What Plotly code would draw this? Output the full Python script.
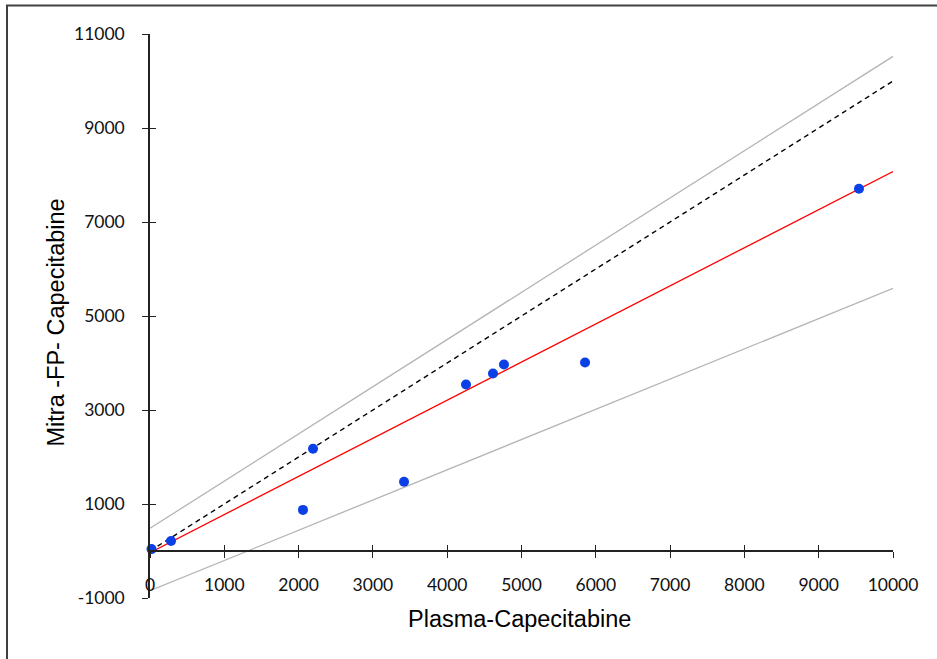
import plotly.graph_objects as go

# ---- data ----
plasma = [20, 283, 2059, 2194, 3419, 4253, 4616, 4764, 5855, 9542]
mitra = [40, 213, 875, 2176, 1472, 3541, 3776, 3968, 4011, 7707]

line_x = [0, 10000]
identity_y = [0, 10000]
fit_y = [-36, 8075]
upper_y = [483, 10524]
lower_y = [-845, 5587]

x_ticks = list(range(0, 10001, 1000))
y_ticks = list(range(-1000, 11001, 2000))

x_title = "Plasma-Capecitabine"
y_title = "Mitra -FP- Capecitabine"

W, H = 937, 659
L, R, T, B = 150, 44, 34, 61
pw, ph = W - L - R, H - T - B

fig = go.Figure()
gray = "#b4b4b4"
fig.add_trace(go.Scatter(x=line_x, y=upper_y, mode="lines",
                         line=dict(color=gray, width=1.3), hoverinfo="skip"))
fig.add_trace(go.Scatter(x=line_x, y=lower_y, mode="lines",
                         line=dict(color=gray, width=1.3), hoverinfo="skip"))
fig.add_trace(go.Scatter(x=line_x, y=identity_y, mode="lines",
                         line=dict(color="#000000", width=1.4, dash="5px,4px"),
                         hoverinfo="skip"))
fig.add_trace(go.Scatter(x=line_x, y=fit_y, mode="lines",
                         line=dict(color="#ff0000", width=1.3), hoverinfo="skip"))
fig.add_trace(go.Scatter(x=plasma, y=mitra, mode="markers",
                         marker=dict(color="#0a40e6", size=10),
                         cliponaxis=False))

axis_color = "#222222"
tick_font = dict(family="Lato, Open Sans, sans-serif", size=17.5, color="#111111")
y0_frac = (0 - (-1000)) / 12000.0

fig.update_layout(
    width=W, height=H,
    margin=dict(l=L, r=R, t=T, b=B),
    paper_bgcolor="white", plot_bgcolor="white",
    showlegend=False,
    xaxis=dict(range=[0, 10000], domain=[0, 1], anchor="free", position=y0_frac,
               showgrid=False, zeroline=False, showline=True,
               linecolor=axis_color, linewidth=1.5,
               ticks="outside", ticklen=6, tickwidth=1.3, tickcolor=axis_color,
               tickmode="array", tickvals=x_ticks,
               ticktext=[str(v) for v in x_ticks],
               tickfont=tick_font, ticklabelstandoff=12),
    xaxis2=dict(range=[0, 10000], domain=[0, 1], anchor="free", position=y0_frac,
                overlaying="x", showgrid=False, zeroline=False, showline=False,
                ticks="inside", ticklen=6, tickwidth=1.3, tickcolor=axis_color,
                tickmode="array", tickvals=x_ticks, showticklabels=False),
    yaxis=dict(range=[-1000, 11000], domain=[0, 1], anchor="x",
               showgrid=False, zeroline=False, showline=True,
               linecolor=axis_color, linewidth=1.5,
               ticks="outside", ticklen=6, tickwidth=1.3, tickcolor=axis_color,
               tickmode="array", tickvals=y_ticks,
               ticktext=[str(v) for v in y_ticks],
               tickfont=tick_font, ticklabelstandoff=14),
    yaxis2=dict(range=[-1000, 11000], domain=[0, 1], anchor="x2",
                overlaying="y", showgrid=False, zeroline=False, showline=False,
                ticks="inside", ticklen=6, tickwidth=1.3, tickcolor=axis_color,
                tickmode="array", tickvals=y_ticks, showticklabels=False),
)

# invisible trace so the overlay (inside-tick) axes render
fig.add_trace(go.Scatter(x=[5000], y=[5000], xaxis="x2", yaxis="y2",
                         mode="markers", marker=dict(opacity=0),
                         showlegend=False, hoverinfo="skip"))

title_font = dict(family="Liberation Sans, Arial, sans-serif", size=23.5, color="#000000")
fig.add_annotation(text=x_title, xref="paper", yref="paper",
                   x=(519.5 - L) / pw, y=(H - B - 619) / ph,
                   xanchor="center", yanchor="middle", showarrow=False,
                   font=title_font)
fig.add_annotation(text=y_title, xref="paper", yref="paper",
                   x=(55 - L) / pw, y=(H - B - 322.5) / ph,
                   xanchor="center", yanchor="middle", showarrow=False,
                   textangle=-90, font=title_font)

# outer frame (right and bottom edges lie outside the visible page)
fig.add_shape(type="rect", xref="paper", yref="paper",
              x0=(7 - L) / pw, x1=(W + 20 - L) / pw,
              y0=(H - B - (H + 20)) / ph, y1=(H - B - 5.5) / ph,
              line=dict(color="#404040", width=2), fillcolor="rgba(0,0,0,0)",
              layer="below")

fig.write_html("out.html")
